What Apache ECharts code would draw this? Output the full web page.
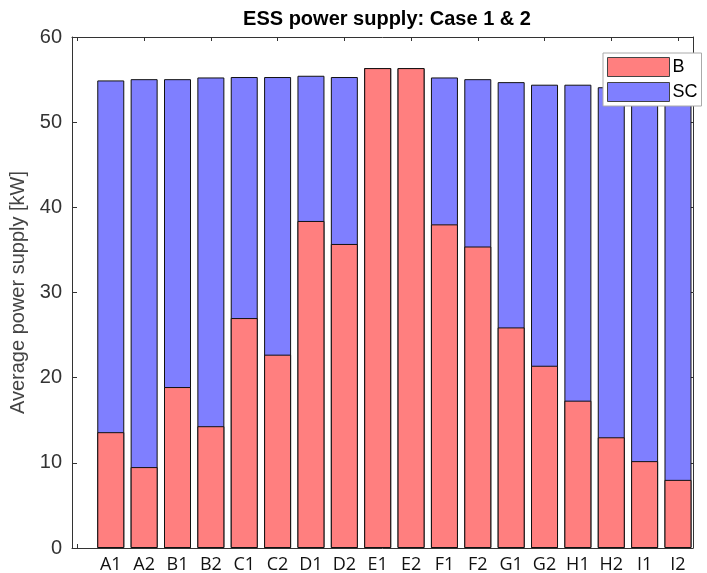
<!DOCTYPE html>
<html>
<head>
<meta charset="utf-8">
<script src="https://cdn.jsdelivr.net/npm/echarts@6/dist/echarts.min.js"></script>
<style>html,body{margin:0;padding:0;background:#fff}#c{width:707px;height:573px}</style>
</head>
<body>
<div id="c"></div>
<script>
var categories = ['A1','A2','B1','B2','C1','C2','D1','D2','E1','E2','F1','F2','G1','G2','H1','H2','I1','I2'];
var seriesB  = [13.6, 9.5, 18.9, 14.3, 27.0, 22.7, 38.4, 35.7, 56.35, 56.35, 38.0, 35.4, 25.9, 21.4, 17.3, 13.0, 10.2, 8.0];
var seriesSC = [41.3, 45.55, 36.15, 40.95, 28.3, 32.6, 17.05, 19.6, 0, 0, 17.25, 19.65, 28.8, 33.0, 37.1, 41.1, 43.7, 45.7];
var yTicks = [0, 10, 20, 30, 40, 50, 60];
var xTickPositions = [0, 2, 4, 6, 8, 10, 12, 14, 16, 18];

var pos = categories.map(function(_, i){ return i + 1; });
var totals = seriesB.map(function(b, i){ return +(b + seriesSC[i]).toFixed(2); });
var chart = echarts.init(document.getElementById('c'));
var axisColor = '#333';
chart.setOption({
  animation: false,
  title: {
    text: 'ESS power supply: Case 1 & 2',
    left: 382, top: 4, textAlign: 'center',
    textStyle: {fontFamily: 'Liberation Sans', fontWeight: 'bold', fontSize: 20, color: '#000'}
  },
  legend: {
    orient: 'vertical', left: 603, top: 53,
    icon: 'rect',
    itemWidth: 62, itemHeight: 19, itemGap: 5,
    padding: [4, 4, 4, 4],
    backgroundColor: '#fff', borderColor: '#aaa', borderWidth: 1,
    itemStyle: {borderColor: '#444', borderWidth: 1},
    textStyle: {fontFamily: 'Liberation Sans', fontSize: 18, color: '#000', padding: [0, 0, 0, -2]},
    data: ['B', 'SC']
  },
  grid: {left: 72, right: 14, top: 37, bottom: 25, containLabel: false, outerBoundsMode: 'none'},
  xAxis: [{
    type: 'value', min: -0.162, max: 18.45, position: 'bottom',
    splitLine: {show: false},
    axisLine: {show: true, onZero: false, lineStyle: {color: axisColor}},
    axisTick: {show: true, inside: true, length: 4, customValues: xTickPositions, lineStyle: {color: axisColor}},
    axisLabel: {show: true, customValues: pos, margin: 8,
      fontFamily: 'Open Sans', fontSize: 18, color: '#111',
      formatter: function(v){ var i = Math.round(v) - 1; return categories[i] || ''; }}
  }, {
    type: 'value', min: -0.162, max: 18.45, position: 'top',
    splitLine: {show: false},
    axisLine: {show: true, onZero: false, lineStyle: {color: axisColor}},
    axisTick: {show: true, inside: true, length: 4, customValues: xTickPositions, lineStyle: {color: axisColor}},
    axisLabel: {show: false}
  }],
  yAxis: [{
    type: 'value', min: 0, max: 60, interval: 10, position: 'left',
    name: 'Average power supply [kW]', nameLocation: 'middle', nameGap: 42,
    nameTextStyle: {fontFamily: 'Liberation Sans', fontSize: 20, color: '#444'},
    splitLine: {show: false},
    axisLine: {show: true, onZero: false, lineStyle: {color: axisColor}},
    axisTick: {show: true, inside: true, length: 5, lineStyle: {color: axisColor}},
    axisLabel: {fontFamily: 'Liberation Sans', fontSize: 20, color: '#333', margin: 10,
      customValues: yTicks}
  }, {
    type: 'value', min: 0, max: 60, interval: 10, position: 'right',
    splitLine: {show: false},
    axisLine: {show: true, onZero: false, lineStyle: {color: axisColor}},
    axisTick: {show: true, inside: true, length: 5, lineStyle: {color: axisColor}},
    axisLabel: {show: false}
  }],
  series: [{
    name: 'SC', type: 'bar', xAxisIndex: 0, yAxisIndex: 0,
    barWidth: 27, barGap: '-100%', z: 2,
    itemStyle: {color: '#7F7FFF', borderColor: '#111', borderWidth: 1},
    data: totals.map(function(v, i){ return [pos[i], v]; })
  }, {
    name: 'B', type: 'bar', xAxisIndex: 0, yAxisIndex: 0,
    barWidth: 27, barGap: '-100%', z: 3,
    itemStyle: {color: '#FF7F7F', borderColor: '#111', borderWidth: 1},
    data: seriesB.map(function(v, i){ return [pos[i], v]; })
  }]
});
</script>
</body>
</html>
